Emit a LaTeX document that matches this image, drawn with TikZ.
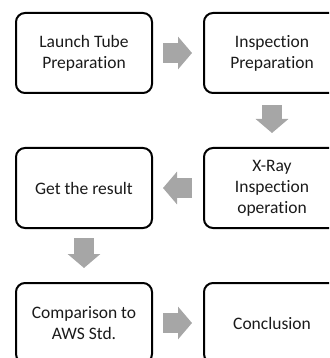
\documentclass[tikz,border=0pt]{standalone}
\usepackage{fontspec}
\setmainfont[Ligatures=NoCommon]{Carlito}
\usetikzlibrary{arrows.meta,calc}
\definecolor{arrowgray}{HTML}{A6A6A6}
\definecolor{txt}{HTML}{1A1A1A}
\begin{document}
\begin{tikzpicture}[x=1pt,y=-1pt,
 stepbox/.style={draw=black, line width=2pt, rounded corners=9pt, minimum width=136pt, minimum height=80pt, inner sep=0pt, align=center, font=\fontsize{17.5}{21}\selectfont, text=txt},
 flowarrow/.style={draw=arrowgray, line width=20pt, -{Triangle[length=14pt,width=32pt]}}]
\useasboundingbox (0,0) rectangle (329,358);
\clip (0,0) rectangle (329,358);
\node[stepbox] (launch) at (84,53) {Launch Tube\\Preparation};
\node[stepbox] (insp) at (272,53) {Inspection\\Preparation};
\node[stepbox] (xray) at (272,188) {X-Ray\\Inspection\\operation};
\node[stepbox] (result) at (84,188) {Get the result};
\node[stepbox] (compare) at (84,323) {Comparison to\\AWS Std.};
\node[stepbox] (concl) at (272,323) {Conclusion};
\draw[flowarrow] ($(launch.east)+(10,0)$) -- ($(insp.west)+(-11,0)$);
\draw[flowarrow] ($(insp.south)+(0,11)$) -- ($(xray.north)+(0,-14)$);
\draw[flowarrow] ($(xray.west)+(-11,0)$) -- ($(result.east)+(10,0)$);
\draw[flowarrow] ($(result.south)+(0,9)$) -- ($(compare.north)+(0,-14)$);
\draw[flowarrow] ($(compare.east)+(10,0)$) -- ($(concl.west)+(-11,0)$);
\end{tikzpicture}
\end{document}
